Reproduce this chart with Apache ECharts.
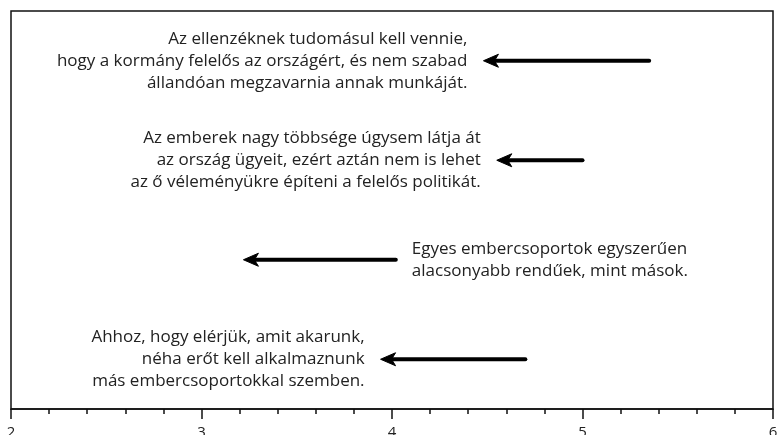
<!DOCTYPE html>
<html>
<head>
<meta charset="utf-8">
<script src="https://cdn.jsdelivr.net/npm/echarts@6/dist/echarts.min.js"></script>
<style>html,body{margin:0;padding:0;background:#fff}#c{width:779px;height:435px}</style>
</head>
<body>
<div id="c"></div>
<script>
// Statements (top to bottom)
const statements = [
  'Az ellenzéknek tudomásul kell vennie,\nhogy a kormány felelős az országért, és nem szabad\nállandóan megzavarnia annak munkáját.',
  'Az emberek nagy többsége úgysem látja át\naz ország ügyeit, ezért aztán nem is lehet\naz ő véleményükre építeni a felelős politikát.',
  'Egyes embercsoportok egyszerűen\nalacsonyabb rendűek, mint mások.',
  'Ahhoz, hogy elérjük, amit akarunk,\nnéha erőt kell alkalmaznunk\nmás embercsoportokkal szemben.'
];
// Arrow start (tail) and end (head) values
const fromValues = [5.35, 5.00, 4.02, 4.70];
const toValues   = [4.48, 4.55, 3.22, 3.94];
// Which side of the arrow the statement sits on
const labelSide = ['left', 'left', 'right', 'left'];
// X axis ticks
const xTicks = [2, 3, 4, 5, 6];

const FONT = '"Open Sans", Lato, sans-serif';
const chart = echarts.init(document.getElementById('c'), null, {renderer: 'canvas'});

const seriesData = statements.map((s, i) => [fromValues[i], toValues[i], i]);

chart.setOption({
  animation: false,
  grid: {left: 11, right: 6, top: 11, bottom: 26, outerBoundsMode: 'none', containLabel: false,
    show: true, borderColor: '#111', borderWidth: 1.5, backgroundColor: 'transparent'},
  xAxis: {
    type: 'value', min: xTicks[0], max: xTicks[xTicks.length - 1], interval: 1,
    axisLine: {show: true, lineStyle: {color: '#111', width: 1.5}},
    axisTick: {show: true, length: 10, lineStyle: {color: '#111', width: 1.5}},
    minorTick: {show: true, splitNumber: 5, length: 5, lineStyle: {color: '#111', width: 1.5}},
    splitLine: {show: false},
    axisLabel: {margin: 16, color: '#222', fontFamily: FONT, fontSize: 15,
      formatter: v => xTicks.includes(v) ? String(v) : ''}
  },
  yAxis: {
    type: 'category', data: statements.map((s, i) => i), inverse: true,
    axisLine: {show: false}, axisTick: {show: false}, axisLabel: {show: false}, splitLine: {show: false}
  },
  series: [{
    type: 'custom',
    data: seriesData,
    encode: {x: [0, 1], y: 2},
    renderItem: function (params, api) {
      const i = api.value(2);
      const tail = api.coord([api.value(0), i]);
      const head = api.coord([api.value(1), i]);
      const y = head[1];
      const dir = tail[0] > head[0] ? 1 : -1;
      const hl = 15, hw = 6.5, notch = 4;
      const hx = head[0];
      const children = [
        {type: 'line', shape: {x1: hx + dir * (hl - notch), y1: y, x2: tail[0], y2: y},
          style: {stroke: '#000', lineWidth: 4, lineCap: 'round'}},
        {type: 'polygon', shape: {points: [[hx, y], [hx + dir * hl, y - hw], [hx + dir * (hl - notch), y], [hx + dir * hl, y + hw]]},
          style: {fill: '#000', stroke: '#000', lineWidth: 1, lineJoin: 'round'}}
      ];
      const side = labelSide[params.dataIndex];
      const minX = Math.min(head[0], tail[0]), maxX = Math.max(head[0], tail[0]);
      children.push({
        type: 'text',
        style: {
          text: statements[params.dataIndex],
          x: side === 'left' ? minX - 16 : maxX + 16,
          y: y,
          align: side === 'left' ? 'right' : 'left',
          verticalAlign: 'middle',
          font: '17px ' + FONT,
          lineHeight: 22,
          fill: '#222'
        }
      });
      return {type: 'group', children: children};
    }
  }]
});
</script>
</body>
</html>
